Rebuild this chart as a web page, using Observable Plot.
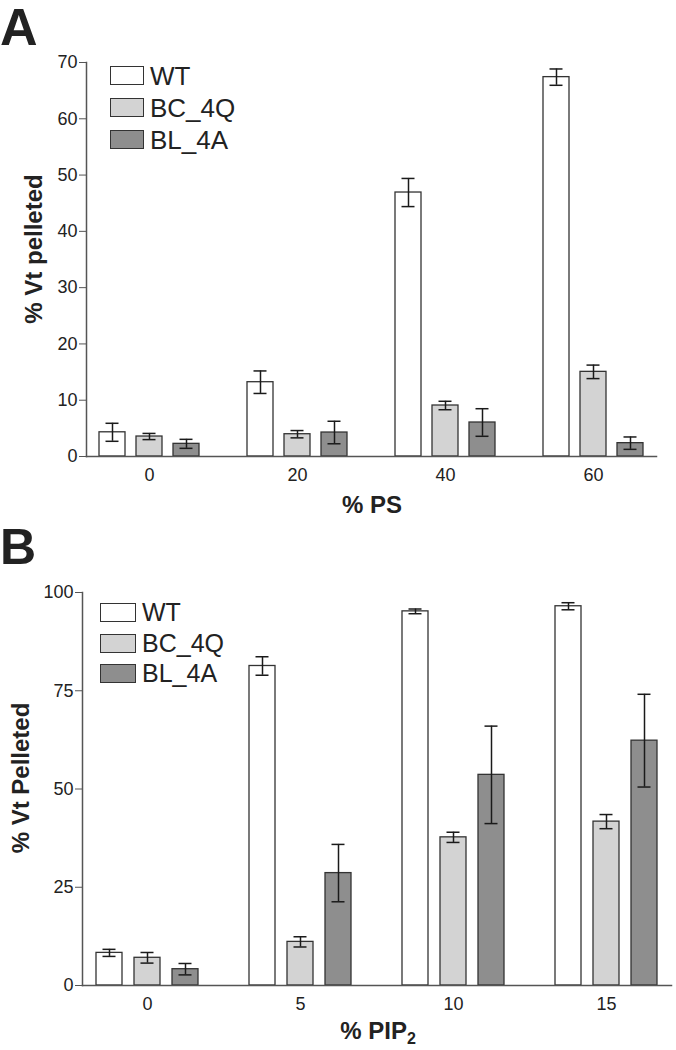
<!DOCTYPE html>
<html>
<head>
<meta charset="utf-8">
<script src="https://cdn.jsdelivr.net/npm/d3@7"></script>
<script src="https://cdn.jsdelivr.net/npm/@observablehq/plot@0.6"></script>
<style>
  html, body { margin: 0; padding: 0; background: #fff; overflow: hidden; }
  body { width: 676px; height: 1050px; font-family: "Liberation Sans", Arial, sans-serif; color: #222; }
  .panel { position: relative; width: 676px; height: 525px; }
  .panel svg { display: block; }
  .letter { position: absolute; left: 0; font-weight: bold; line-height: 1; }
  .ylab { position: absolute; font-weight: bold; font-size: 24px; line-height: 1; white-space: nowrap;
          transform: translate(-50%, -50%) rotate(-90deg); }
  .xlab { position: absolute; font-weight: bold; font-size: 24px; line-height: 1; white-space: nowrap;
          transform: translate(-50%, -50%); }
  .xlab sub { font-size: 16px; vertical-align: -5px; line-height: 0; }
  .legend { position: absolute; }
  .legend .row { position: absolute; left: 0; display: flex; align-items: center; white-space: nowrap; }
  .legend .sw { box-sizing: border-box; border: 1.3px solid #333; }
</style>
</head>
<body>
<div id="panelA" class="panel"></div>
<div id="panelB" class="panel"></div>
<script>
// ---- Data ----
const seriesNames = ["WT", "BC_4Q", "BL_4A"];
const seriesColors = ["#ffffff", "#d3d3d3", "#8e8e8e"];

// Panel A: % PS
const groupsA = ["0", "20", "40", "60"];
const wtA    = [4.3, 13.2, 46.9, 67.4];
const wtErrA = [1.6, 2.0, 2.5, 1.45];
const bcA    = [3.55, 3.96, 9.06, 15.04];
const bcErrA = [0.55, 0.65, 0.75, 1.2];
const blA    = [2.25, 4.26, 6.04, 2.37];
const blErrA = [0.8, 2.0, 2.45, 1.1];
const yTicksA = [0, 10, 20, 30, 40, 50, 60, 70];

// Panel B: % PIP2
const groupsB = ["0", "5", "10", "15"];
const wtB    = [8.3, 81.3, 95.2, 96.5];
const wtErrB = [0.9, 2.35, 0.6, 0.9];
const bcB    = [7.05, 11.1, 37.7, 41.7];
const bcErrB = [1.35, 1.3, 1.3, 1.8];
const blB    = [4.15, 28.6, 53.6, 62.3];
const blErrB = [1.45, 7.3, 12.4, 11.8];
const yTicksB = [0, 25, 50, 75, 100];

function rowsFor(groups, vals, errs) {
  const rows = [];
  groups.forEach((g, i) => {
    seriesNames.forEach((s, j) => {
      rows.push({group: g, series: s, value: vals[j][i], err: errs[j][i]});
    });
  });
  return rows;
}

function makePlot(rows, groups, yMax, yTicks, m) {
  const ink = "#1a1a1a";
  return Plot.plot({
    width: 676,
    height: 525,
    marginTop: m.top, marginBottom: m.bottom, marginLeft: m.left, marginRight: m.right,
    style: {fontFamily: "'Liberation Sans', Arial, sans-serif", color: "#222", background: "transparent"},
    fx: {domain: groups, paddingInner: m.fxPad, paddingOuter: 0, label: null},
    x: {domain: seriesNames, paddingInner: m.xPadIn, paddingOuter: m.xPadOut, axis: null},
    y: {domain: [0, yMax], label: null},
    color: {domain: seriesNames, range: seriesColors},
    marks: [
      Plot.barY(rows, {fx: "group", x: "series", y: "value", fill: "series", stroke: "#333", strokeWidth: 1.3}),
      Plot.ruleX(rows, {fx: "group", x: "series", y1: d => d.value - d.err, y2: d => d.value + d.err, stroke: ink, strokeWidth: 1.5}),
      Plot.tickY(rows, {fx: "group", x: "series", y: d => d.value - d.err, stroke: ink, strokeWidth: 1.5, insetLeft: 6.5, insetRight: 6.5}),
      Plot.tickY(rows, {fx: "group", x: "series", y: d => d.value + d.err, stroke: ink, strokeWidth: 1.5, insetLeft: 6.5, insetRight: 6.5}),
      Plot.frame({anchor: "bottom", facet: "super", stroke: "#555", strokeWidth: 1.5}),
      Plot.frame({anchor: "left", facet: "super", stroke: "#555", strokeWidth: 1.5}),
      Plot.axisY({ticks: yTicks, tickSize: 7, tickPadding: 2, fontSize: 18, label: null, stroke: "#555"}),
      Plot.axisFx({anchor: "bottom", tickSize: 0, tickPadding: 12, fontSize: 18, label: null})
    ]
  });
}

function addLegend(panel, left, top, swW, swH, rowStep, fontSize, gap) {
  const lg = document.createElement("div");
  lg.className = "legend";
  lg.style.left = left + "px";
  lg.style.top = top + "px";
  seriesNames.forEach((s, i) => {
    const row = document.createElement("div");
    row.className = "row";
    row.style.top = (i * rowStep) + "px";
    row.style.height = swH + "px";
    const sw = document.createElement("div");
    sw.className = "sw";
    sw.style.width = swW + "px";
    sw.style.height = swH + "px";
    sw.style.background = seriesColors[i];
    const tx = document.createElement("span");
    tx.textContent = s;
    tx.style.fontSize = fontSize + "px";
    tx.style.marginLeft = gap + "px";
    tx.style.lineHeight = "1";
    row.appendChild(sw);
    row.appendChild(tx);
    lg.appendChild(row);
  });
  panel.appendChild(lg);
}

function addDiv(panel, cls, html, styles) {
  const d = document.createElement("div");
  d.className = cls;
  d.innerHTML = html;
  Object.assign(d.style, styles);
  panel.appendChild(d);
}

// ---- Panel A ----
const panelA = document.getElementById("panelA");
const rowsA = rowsFor(groupsA, [wtA, bcA, blA], [wtErrA, bcErrA, blErrA]);
panelA.appendChild(makePlot(rowsA, groupsA, 70, yTicksA,
  {top: 62, bottom: 69, left: 85, right: 18, fxPad: 0.148, xPadIn: 0.307, xPadOut: 0.347}));
addDiv(panelA, "letter", "A", {top: "1px", fontSize: "52px"});
addDiv(panelA, "ylab", "% Vt pelleted", {left: "34px", top: "249px"});
addDiv(panelA, "xlab", "% PS", {left: "372px", top: "505px"});
addLegend(panelA, 110, 66, 34, 19, 32, 26, 6);

// ---- Panel B ----
const panelB = document.getElementById("panelB");
const rowsB = rowsFor(groupsB, [wtB, bcB, blB], [wtErrB, bcErrB, blErrB]);
panelB.appendChild(makePlot(rowsB, groupsB, 100, yTicksB,
  {top: 67, bottom: 65, left: 80, right: 3, fxPad: 0.149, xPadIn: 0.32, xPadOut: 0.34}));
addDiv(panelB, "letter", "B", {top: "-3px", fontSize: "50px"});
addDiv(panelB, "ylab", "% Vt Pelleted", {left: "21px", top: "253px"});
addDiv(panelB, "xlab", "% PIP<sub>2</sub>", {left: "378px", top: "506px"});
addLegend(panelB, 100, 78, 36, 19, 30.7, 25, 6);
</script>
</body>
</html>
